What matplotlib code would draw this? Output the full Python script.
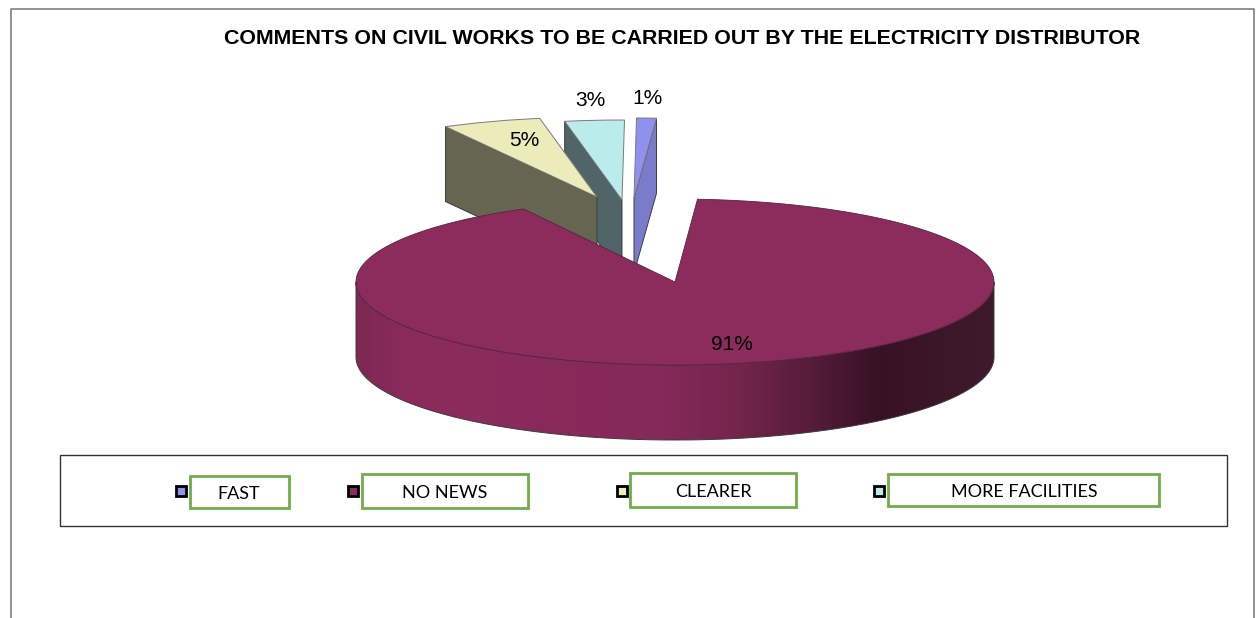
import numpy as np
import matplotlib
matplotlib.use('Agg')
import matplotlib.pyplot as plt
from matplotlib.colors import LinearSegmentedColormap
from matplotlib.patches import Polygon, Rectangle

# Pie shares, clockwise from the first slice
categories = ['FAST', 'NO NEWS', 'CLEARER', 'MORE FACILITIES']
values = [1, 91, 5, 3]
labels = ['1%', '91%', '5%', '3%']

top_colors = ['#9090EE', '#8B2C5C', '#ECECBB', '#BBECEC']
face_colors = ['#7B7BCC', '#8B2C5C', '#666650', '#4F6568']

title = 'COMMENTS ON CIVIL WORKS TO BE CARRIED OUT BY THE ELECTRICITY DISTRIBUTOR'

plt.rcParams['font.family'] = ['Liberation Sans', 'DejaVu Sans']

W, H = 1259, 618
fig = plt.figure(figsize=(W / 100, H / 100), dpi=100)
ax = fig.add_axes([0, 0, 1, 1])
ax.set_axis_off()

# Pie projection, in pixels
cx, cy = 675, 282
rx, ry = 319, 83
small_ry = 80
depth = 75
first_angle = 0.45
edge = '#3c3c3c'

# Where the apex of each slice sits once exploded
apex = [(634, 198), (cx, cy), (597, 197), (622, 200)]
label_pos = [(648, 99), (732, 345), (524, 141), (590, 101)]


def rim(a0, a1, x0=cx, y0=cy, yr=ry, n=200):
    # angles in degrees, clockwise from twelve o'clock
    t = np.radians(np.linspace(a0, a1, n))
    return np.column_stack([x0 + rx * np.sin(t), y0 - yr * np.cos(t)])


# Slice angles come from the shares
sweeps = np.array(values) / np.sum(values) * 360
starts = first_angle + np.concatenate([[0], np.cumsum(sweeps)[:-1]])
ends = starts + sweeps


def exploded_slice(i):
    x0, y0 = apex[i]
    # small slices have an almost straight outer edge
    arc = rim(starts[i], ends[i], x0, y0, small_ry, n=4)
    # the cut face that shows: left edge for clearer/more, right edge for fast
    p = arc[-1] if i == 0 else arc[0]
    face = [(x0, y0), tuple(p), (p[0], p[1] + depth), (x0, y0 + depth)]
    ax.add_patch(Polygon(face, closed=True, fc=face_colors[i], ec=edge, lw=0.7))
    top = np.vstack([[x0, y0], arc])
    ax.add_patch(Polygon(top, closed=True, fc=top_colors[i], ec='#7a7a7a', lw=0.7))


for i in [0, 3, 2]:
    exploded_slice(i)

# Outer wall of the large slice, shaded left to right
front = rim(90, 270)
wall = np.vstack([front, (front + [0, depth])[::-1]])
wall_patch = Polygon(wall, closed=True, fc='none', ec='none')
ax.add_patch(wall_patch)
shade = LinearSegmentedColormap.from_list('wall', [
    (0.00, '#7E2853'), (0.08, '#8B2C5C'), (0.48, '#85295A'),
    (0.60, '#74254C'), (0.72, '#541C39'), (0.82, '#381125'), (1.00, '#3F1A2C'),
])
img = ax.imshow(np.linspace(0, 1, 400)[None, :], cmap=shade, aspect='auto',
                extent=(cx - rx, cx + rx, cy + ry + depth, cy), zorder=2)
img.set_clip_path(wall_patch)
ax.add_patch(Polygon(wall, closed=True, fc='none', ec=edge, lw=0.7, zorder=3))

# Top of the large slice
arc = rim(starts[1], ends[1])
ax.add_patch(Polygon(np.vstack([[cx, cy], arc]), closed=True, fc=top_colors[1],
                     ec='#5a2240', lw=0.6, zorder=4))

for lab, (x, y) in zip(labels, label_pos):
    ax.text(x, y, lab, fontsize=15, color='black', ha='center', va='center', zorder=6)

ax.text(682, 38.5, title, fontsize=15.4, fontweight='bold', color='black',
        ha='center', va='center')

# Outer frame, open at the bottom
ax.plot([11, 11, 1254, 1254], [H, 9, 9, H], color='#7f7f7f', lw=1.2)

# Legend box
ax.add_patch(Rectangle((60, 455), 1167, 71, fc='white', ec='#333333', lw=1.0, zorder=5))

marker_x = [181, 353, 622, 879]
boxes = [(190, 476, 99, 32), (362, 474, 166, 34), (630, 473, 166, 34), (888, 474, 271, 32)]
text_pos = [(239, 494), (445, 493), (713, 492), (1024, 492)]
for i, name in enumerate(categories):
    ax.add_patch(Rectangle((marker_x[i] - 5, 486), 10, 10, fc=top_colors[i], ec='black',
                           lw=2.0, zorder=6))
    ax.add_patch(Rectangle(boxes[i][:2], boxes[i][2], boxes[i][3], fc='white', ec='#70AD47',
                           lw=2.0, zorder=6))
    ax.text(*text_pos[i], name, fontsize=13, family=['Lato', 'DejaVu Sans'], color='black',
            ha='center', va='center', zorder=7)

ax.set_xlim(0, W)
ax.set_ylim(H, 0)

fig.savefig('out.png', dpi=100, facecolor='white')
